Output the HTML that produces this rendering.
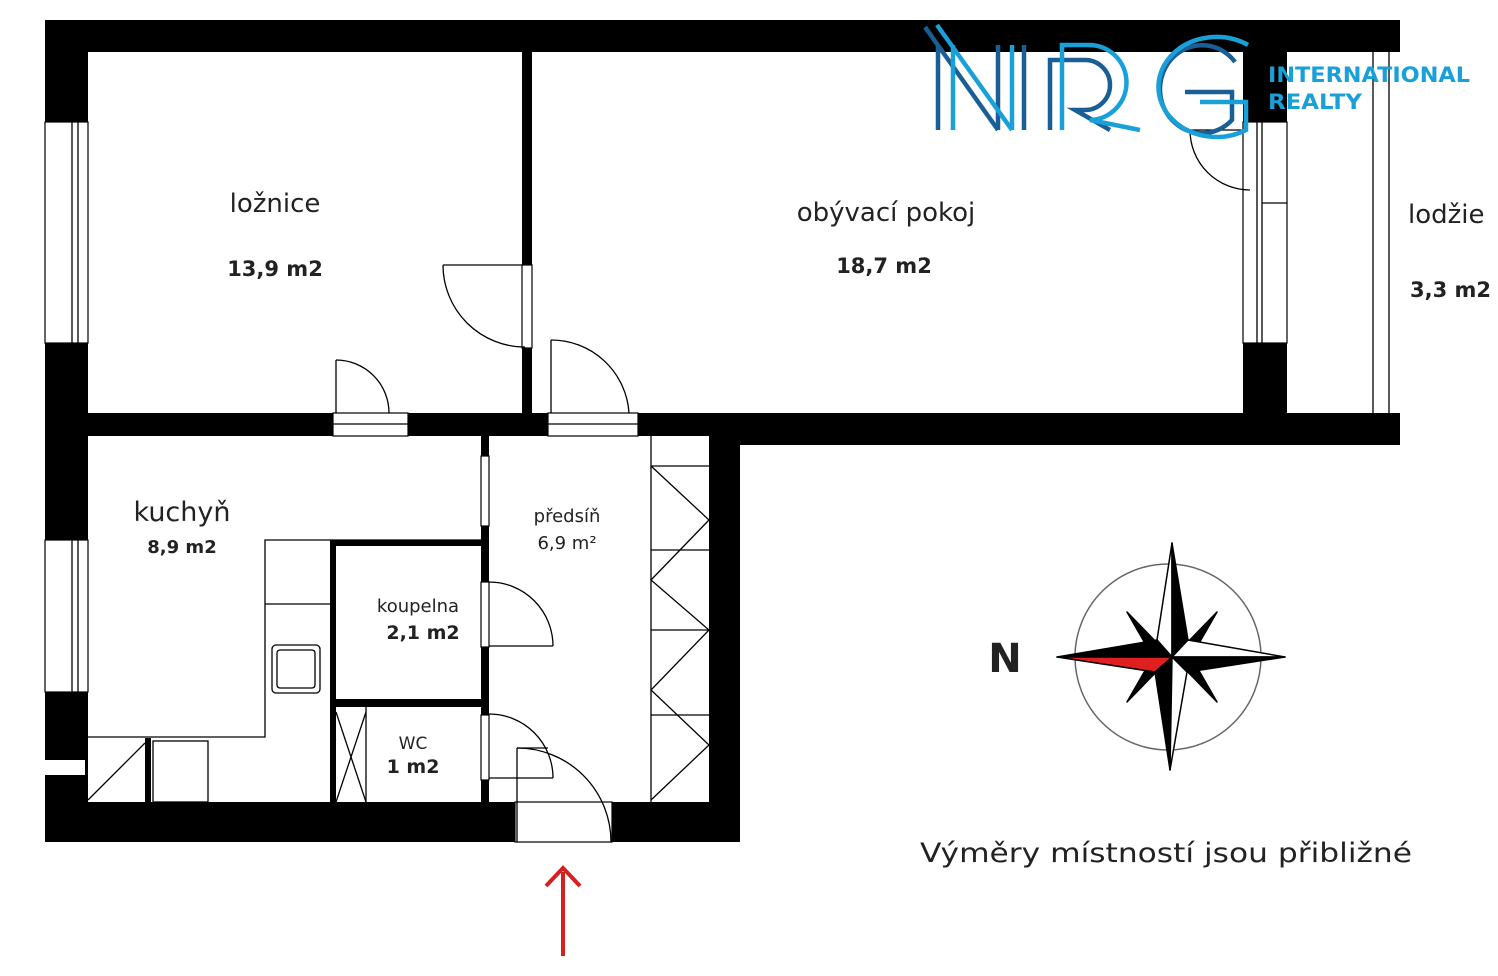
<!DOCTYPE html>
<html><head><meta charset="utf-8"><style>
html,body{margin:0;padding:0;background:#fff;width:1498px;height:976px;overflow:hidden}
svg{display:block}
text{font-family:"DejaVu Sans","Liberation Sans",sans-serif}
</style></head><body>
<svg width="1498" height="976" viewBox="0 0 1498 976" xmlns="http://www.w3.org/2000/svg">
<g fill="#000">
<rect x="45" y="20" width="1355" height="32"/>
<rect x="45" y="20" width="43" height="822"/>
<rect x="45" y="802" width="695" height="40"/>
<rect x="709" y="436" width="31" height="406"/>
<rect x="88" y="413" width="640" height="23"/>
<rect x="709" y="413" width="691" height="32"/>
<rect x="522" y="52" width="10" height="361"/>
<rect x="1243" y="52" width="44" height="70"/>
<rect x="1243" y="343" width="44" height="70"/>
<rect x="481" y="436" width="8" height="366"/>
<rect x="330" y="540" width="158" height="6"/>
<rect x="330" y="540" width="6" height="262"/>
<rect x="330" y="699" width="158" height="8"/>
<rect x="145" y="738" width="6" height="64"/>
</g>
<g fill="#fff" stroke="#000" stroke-width="1.2">
<rect x="45" y="122" width="43" height="221"/>
<rect x="45" y="540" width="43" height="152"/>
<rect x="45" y="760" width="40" height="15" stroke="none"/>
<rect x="1243" y="122" width="44" height="221"/>
<rect x="333" y="413" width="75" height="23"/>
<rect x="548" y="413" width="90" height="23"/>
<rect x="515" y="802" width="97" height="40"/>
<rect x="481" y="456" width="8" height="70"/>
<rect x="481" y="582" width="8" height="65"/>
<rect x="481" y="715" width="8" height="65"/>
<rect x="522" y="265" width="10" height="83"/>
</g>
<g fill="none" stroke="#000" stroke-width="1.3">
<line x1="72" y1="122" x2="72" y2="343"/><line x1="78" y1="122" x2="78" y2="343"/>
<line x1="72" y1="540" x2="72" y2="692"/><line x1="78" y1="540" x2="78" y2="692"/>
<line x1="1257" y1="122" x2="1257" y2="343"/><line x1="1262" y1="122" x2="1262" y2="343"/>
<line x1="1262" y1="203" x2="1287" y2="203"/>
<line x1="1373" y1="52" x2="1373" y2="413"/><line x1="1389" y1="52" x2="1389" y2="413"/>
<line x1="333" y1="424" x2="408" y2="424"/><line x1="548" y1="424" x2="638" y2="424"/>
<line x1="336" y1="413" x2="336" y2="360"/><path d="M336 360 A53 53 0 0 1 389 413"/>
<line x1="551" y1="413" x2="551" y2="340"/><path d="M551 340 A78 78 0 0 1 629 413"/>
<line x1="522" y1="265" x2="443" y2="265"/><path d="M443 265 A82 82 0 0 0 525 347"/>
<line x1="1243" y1="130" x2="1190" y2="130"/><path d="M1190 130 A60 60 0 0 0 1250 190"/>
<path d="M489 582 A64 64 0 0 1 553 646"/><line x1="489" y1="646" x2="553" y2="646"/>
<path d="M489 714 A64 64 0 0 1 553 778"/><line x1="489" y1="778" x2="553" y2="778"/>
<line x1="517" y1="748" x2="517" y2="842"/><line x1="517" y1="748" x2="548" y2="748"/>
<path d="M517 748 A94 94 0 0 1 611 842"/>
<polyline points="481,540 265,540 265,737 88,737"/>
<line x1="265" y1="604" x2="330" y2="604"/>
<rect x="272" y="645" width="48" height="48" rx="4"/><rect x="277" y="650" width="38" height="38" rx="3"/>
<rect x="153" y="741" width="55" height="61"/>
<line x1="88" y1="800" x2="145" y2="743"/>
<line x1="366" y1="707" x2="366" y2="802"/>
<line x1="336" y1="712" x2="366" y2="802"/><line x1="366" y1="712" x2="336" y2="802"/>
<line x1="651" y1="436" x2="651" y2="802"/>
<line x1="651" y1="466" x2="709" y2="466"/>
<line x1="651" y1="550" x2="709" y2="550"/>
<line x1="651" y1="630" x2="709" y2="630"/>
<line x1="651" y1="715" x2="709" y2="715"/>
<polyline points="651,466 709,520 651,580 709,630 651,690 709,745 651,800"/>
</g>
<g fill="#222">
<text x="275" y="212" font-size="26" text-anchor="middle">ložnice</text>
<text x="275" y="276" font-size="21" font-weight="bold" text-anchor="middle">13,9 m2</text>
<text x="886" y="221" font-size="26" text-anchor="middle">obývací pokoj</text>
<text x="884" y="273" font-size="21" font-weight="bold" text-anchor="middle">18,7 m2</text>
<text x="1408" y="223" font-size="26">lodžie</text>
<text x="1410" y="297" font-size="21" font-weight="bold">3,3 m2</text>
<text x="182" y="521" font-size="27" text-anchor="middle">kuchyň</text>
<text x="182" y="553" font-size="18" font-weight="bold" text-anchor="middle">8,9 m2</text>
<text x="567" y="522" font-size="18" text-anchor="middle">předsíň</text>
<text x="567" y="549" font-size="18" text-anchor="middle">6,9 m²</text>
<text x="418" y="612" font-size="18" text-anchor="middle">koupelna</text>
<text x="423" y="639" font-size="19" font-weight="bold" text-anchor="middle">2,1 m2</text>
<text x="413" y="749" font-size="17" text-anchor="middle">WC</text>
<text x="413" y="773" font-size="19" font-weight="bold" text-anchor="middle">1 m2</text>
<text x="1005" y="672" font-size="40" font-weight="bold" text-anchor="middle" font-family="Liberation Sans">N</text>
<text x="1166" y="862" font-size="27" text-anchor="middle" textLength="492" lengthAdjust="spacingAndGlyphs">Výměry místností jsou přibližné</text>
</g>
<!-- logo -->
<g fill="none" stroke-width="4.5">
<g stroke="#1a5e96">
<line x1="938" y1="45" x2="938" y2="130"/><line x1="925" y1="27" x2="998" y2="130"/>
<line x1="998" y1="45" x2="998" y2="130"/>
<line x1="1024" y1="45" x2="1024" y2="130"/>
<path d="M1050 130 V60 H1085 A25 25 0 0 1 1085 110 H1075 L1110 130"/>
<path d="M1235 62 A42 44 0 1 0 1232 120 V92 H1185"/>
</g>
<g stroke="#1aa0d8">
<line x1="953" y1="45" x2="953" y2="130"/><line x1="937" y1="25" x2="1012" y2="130"/>
<line x1="1012" y1="45" x2="1012" y2="130"/>
<path d="M1062 130 V45 H1088 A37 37 0 0 1 1090 120 L1140 130"/>
<path d="M1248 45 A58 50 0 1 0 1246 130 V102 H1200"/>
</g>
</g>
<text x="1268" y="82" font-size="21" font-weight="bold" fill="#1aa0d8" font-family="Liberation Sans" textLength="202" lengthAdjust="spacingAndGlyphs">INTERNATIONAL</text>
<text x="1268" y="109" font-size="21" font-weight="bold" fill="#1aa0d8" font-family="Liberation Sans" textLength="94" lengthAdjust="spacingAndGlyphs">REALTY</text>
<!-- compass -->
<circle cx="1168" cy="657" r="93" fill="none" stroke="#666" stroke-width="1.5"/>
<g stroke="#000" stroke-width="1.5" stroke-linejoin="round">
<polygon points="1127,612 1162,648 1150,652" fill="#000"/>
<polygon points="1217,612 1182,648 1194,652" fill="#000"/>
<polygon points="1127,702 1162,666 1150,662" fill="#000"/>
<polygon points="1217,702 1182,666 1194,662" fill="#000"/>
<polygon points="1172,543 1157,640 1172,657" fill="#fff"/>
<polygon points="1172,543 1188,640 1172,657" fill="#000"/>
<polygon points="1170,770 1155,672 1172,657" fill="#000"/>
<polygon points="1170,770 1187,672 1172,657" fill="#fff"/>
<polygon points="1285,657 1188,640 1172,657" fill="#fff"/>
<polygon points="1285,657 1188,672 1172,657" fill="#000"/>
<polygon points="1057,657 1157,640 1172,657" fill="#000"/>
<polygon points="1057,657 1155,672 1172,657" fill="#e02020"/>
</g>
<line x1="563" y1="872" x2="563" y2="956" stroke="#d42020" stroke-width="4"/>
<polyline points="546,886 563,868 580,886" fill="none" stroke="#d42020" stroke-width="4"/>
</svg>
</body></html>
